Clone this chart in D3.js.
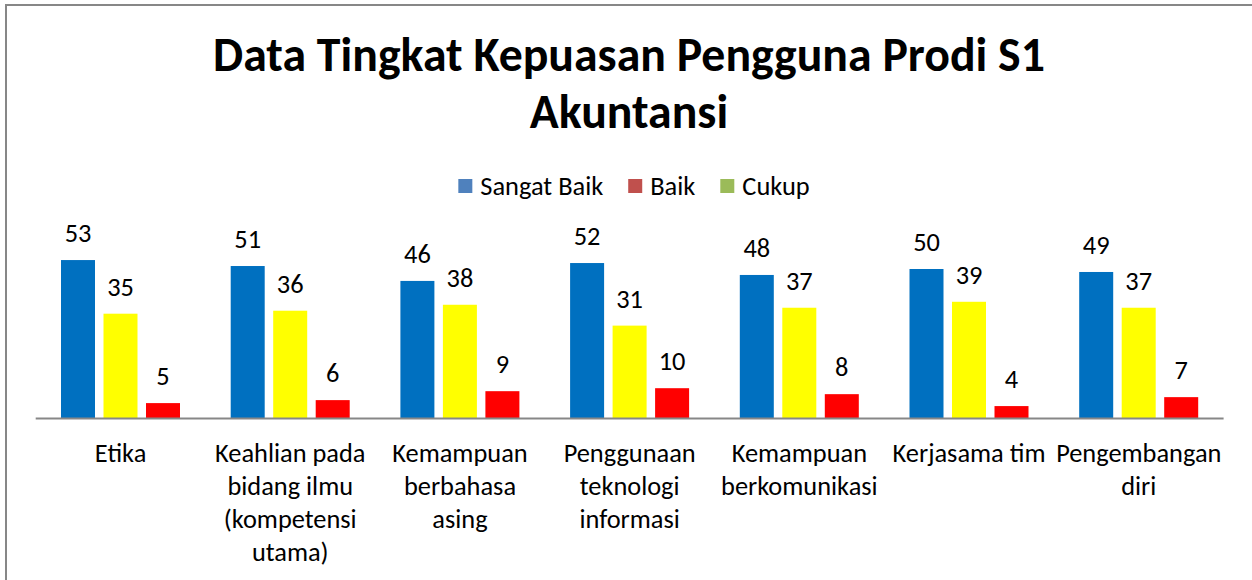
<!DOCTYPE html>
<html>
<head>
<meta charset="utf-8">
<script src="https://cdn.jsdelivr.net/npm/d3@7"></script>
<style>
  html, body { margin: 0; padding: 0; background: #fff; }
  svg { display: block; }
</style>
</head>
<body>
<svg id="chart" width="1252" height="580"></svg>
<script>
// ---- data ----
const categories = [
  "Etika",
  "Keahlian pada bidang ilmu (kompetensi utama)",
  "Kemampuan berbahasa asing",
  "Penggunaan teknologi informasi",
  "Kemampuan berkomunikasi",
  "Kerjasama tim",
  "Pengembangan diri"
];
const seriesNames = ["Sangat Baik", "Baik", "Cukup"];
const sangatBaik = [53, 51, 46, 52, 48, 50, 49];
const baik = [35, 36, 38, 31, 37, 39, 37];
const cukup = [5, 6, 9, 10, 8, 4, 7];
const titleLines = ["Data Tingkat Kepuasan Pengguna Prodi S1", "Akuntansi"];

// ---- styles ----
const barColors = ["#0070C0", "#FFFF00", "#FF0000"];
const legendColors = ["#4F81BD", "#C0504D", "#9BBB59"];
const FONT = "Carlito, Calibri, Lato, 'Noto Sans', sans-serif";

const seriesValues = [sangatBaik, baik, cukup];
const svg = d3.select("#chart");

// measure helper to match reference text widths
function fitSize(text, target, weight) {
  const t = svg.append("text").attr("font-family", FONT).attr("font-size", 100)
    .attr("font-weight", weight || "normal").text(text);
  const w = t.node().getComputedTextLength();
  t.remove();
  return 100 * target / w;
}
const titleSize = fitSize(titleLines[0], 832, "bold");
const catSize = fitSize("Kerjasama tim", 153);
const legSize = fitSize("Sangat Baik", 123);
const lblSize = catSize;

// chart border
svg.append("rect").attr("x", 6).attr("y", 5).attr("width", 1400).attr("height", 800)
  .attr("fill", "#fff").attr("stroke", "#878787").attr("stroke-width", 2);

// title
const title = svg.append("text").attr("font-family", FONT).attr("font-weight", "bold")
  .attr("font-size", titleSize).attr("text-anchor", "middle").attr("fill", "#000");
titleLines.forEach((l, i) => {
  title.append("tspan").attr("x", 629).attr("y", 71 + i * 57).text(l);
});

// scales
const x0 = d3.scaleBand().domain(categories).range([35.7, 1223.6]).paddingInner(0).paddingOuter(0);
const x1 = d3.scaleBand().domain(seriesNames).range([25.3, 144.3]).paddingInner(0.2).paddingOuter(0);
const y = d3.scaleLinear().domain([0, 60]).range([418, 239.2]);

// bars
const g = svg.append("g");
categories.forEach((c, ci) => {
  seriesNames.forEach((s, si) => {
    const v = seriesValues[si][ci];
    const bx = x0(c) + x1(s);
    g.append("rect")
      .attr("x", bx).attr("y", y(v))
      .attr("width", x1.bandwidth()).attr("height", y(0) - y(v))
      .attr("fill", barColors[si]);
    g.append("text")
      .attr("x", bx + x1.bandwidth() / 2).attr("y", y(v) - 18)
      .attr("text-anchor", "middle").attr("font-family", FONT)
      .attr("font-size", lblSize).attr("fill", "#000").text(v);
  });
});

// x axis
const xAxis = svg.append("g").attr("transform", `translate(0,${y(0) + 0.5})`)
  .call(d3.axisBottom(x0).tickSize(0).tickPadding(0));
xAxis.select(".domain").attr("stroke", "#878787").attr("stroke-width", 2)
  .attr("d", `M${x0.range()[0]},0H${x0.range()[1]}`);
xAxis.selectAll(".tick text").remove();

// wrapped category labels
function wrapWords(text, maxW) {
  const words = text.split(" ");
  const lines = [];
  let cur = "";
  const t = svg.append("text").attr("font-family", FONT).attr("font-size", catSize);
  words.forEach(w => {
    const test = cur ? cur + " " + w : w;
    t.text(test);
    if (t.node().getComputedTextLength() > maxW && cur) {
      lines.push(cur);
      cur = w;
    } else {
      cur = test;
    }
  });
  if (cur) lines.push(cur);
  t.remove();
  return lines;
}
xAxis.selectAll(".tick").each(function(d) {
  const lines = wrapWords(d, 160);
  const t = d3.select(this).append("text").attr("font-family", FONT)
    .attr("font-size", catSize).attr("fill", "#000").attr("text-anchor", "middle");
  lines.forEach((l, i) => {
    t.append("tspan").attr("x", 0).attr("y", 43 + i * 33).text(l);
  });
});

// legend
const legend = svg.append("g");
const sq = 14, gapTxt = 8, gapItem = 25;
let widths = seriesNames.map(s => {
  const t = svg.append("text").attr("font-family", FONT).attr("font-size", legSize).text(s);
  const w = t.node().getComputedTextLength();
  t.remove();
  return w;
});
const total = widths.reduce((a, w) => a + sq + gapTxt + w, 0) + gapItem * (seriesNames.length - 1);
let lx = 634 - total / 2;
const ly = 186;
seriesNames.forEach((s, i) => {
  legend.append("rect").attr("x", lx).attr("y", ly - sq / 2).attr("width", sq).attr("height", sq)
    .attr("fill", legendColors[i]);
  legend.append("text").attr("x", lx + sq + gapTxt).attr("y", ly).attr("dy", "0.35em")
    .attr("font-family", FONT).attr("font-size", legSize).attr("fill", "#000").text(s);
  lx += sq + gapTxt + widths[i] + gapItem;
});
</script>
</body>
</html>
